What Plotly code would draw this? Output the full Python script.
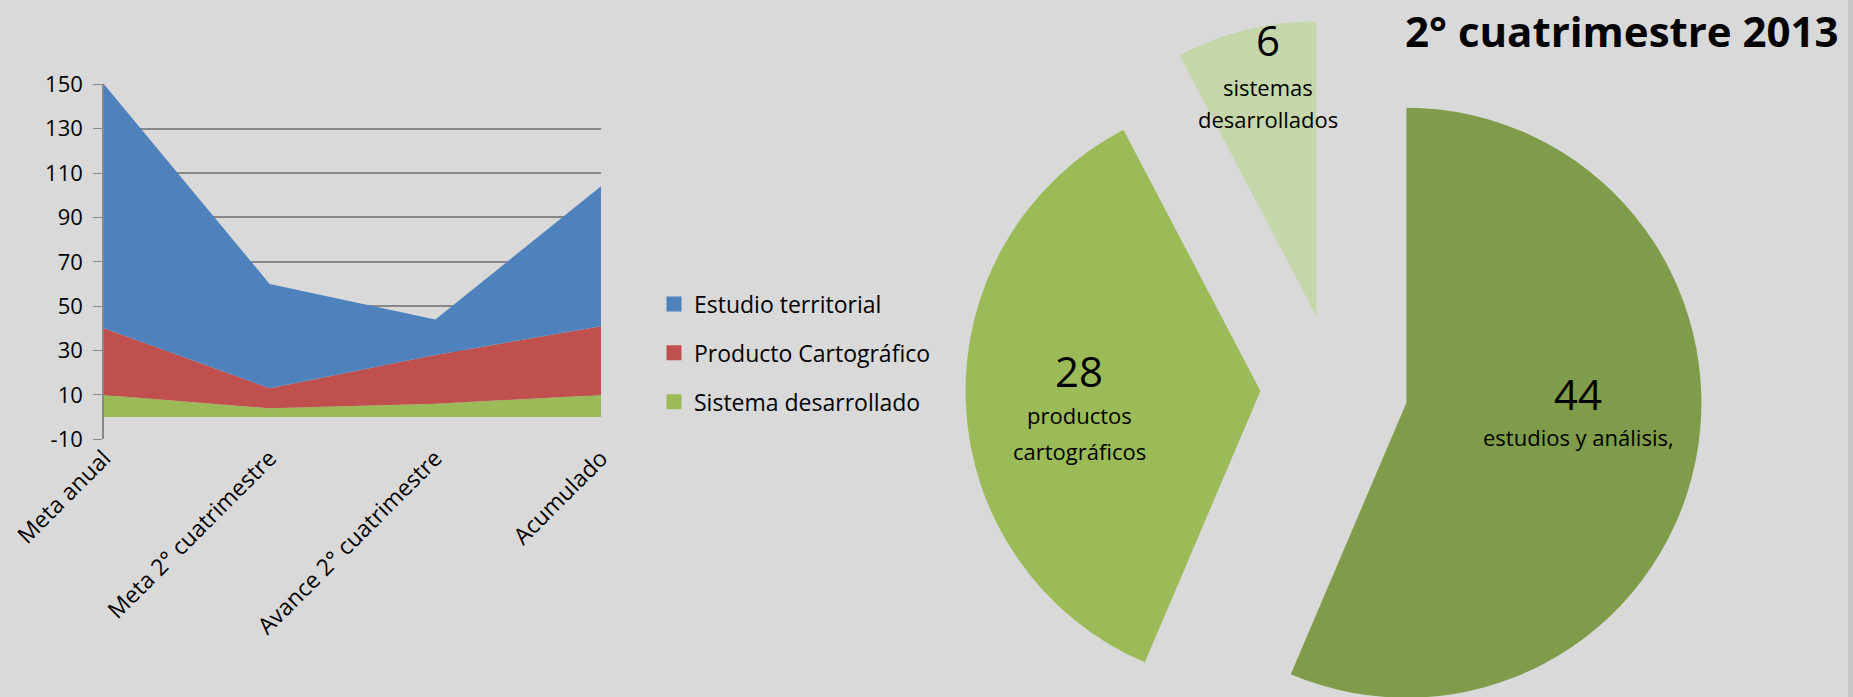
import plotly.graph_objects as go

# ---------------- data ----------------
categories = ["Meta anual", "Meta 2° cuatrimestre", "Avance 2° cuatrimestre", "Acumulado"]
sistema_desarrollado = [10, 4, 6, 10]
producto_cartografico = [30, 9, 22, 31]
estudio_territorial = [110, 47, 16, 63]

y_tick_values = [-10, 10, 30, 50, 70, 90, 110, 130, 150]
y_tick_labels = ["-10", "10", "30", "50", "70", "90", "110", "130", "150"]

pie_values = [44, 28, 6]
pie_numbers = ["44", "28", "6"]
pie_labels = [["estudios y análisis,"], ["productos", "cartográficos"], ["sistemas", "desarrollados"]]
pie_colors = ["#7F9C4A", "#9BBB59", "#C5D7AA"]

title_text = "2° cuatrimestre 2013"

# ---------------- layout constants ----------------
W, H = 1853, 697          # visible page
HF = 757                  # figure height (bottom of the pie runs past the visible page, as in the original)
BG = "#D9D9D9"
FONT = "Open Sans, Lato, sans-serif"
GRID = "#878787"


def py(pix):
    """pixel row (from top) -> paper y"""
    return 1 - pix / HF


x_dom = [104 / W, 601 / W]
y_dom = [py(439.3), py(84.3)]
y_range = [-10, 150]
zero_pos = y_dom[0] + (0 - y_range[0]) / (y_range[1] - y_range[0]) * (y_dom[1] - y_dom[0])

fig = go.Figure()

area_series = [
    ("Sistema desarrollado", sistema_desarrollado, "#9BBB59"),
    ("Producto Cartográfico", producto_cartografico, "#C0504D"),
    ("Estudio territorial", estudio_territorial, "#4F81BD"),
]
for name, vals, col in area_series:
    fig.add_trace(go.Scatter(
        x=categories, y=vals, name=name, mode="none", stackgroup="one",
        fillcolor=col, line=dict(width=0), showlegend=False,
    ))

# legend entries (square swatches), top to bottom
for i, (name, vals, col) in enumerate(reversed(area_series)):
    fig.add_trace(go.Scatter(
        x=[None], y=[None], name=name, mode="markers", legendgroup=f"g{i}",
        marker=dict(symbol="square", size=15, color=col), showlegend=True,
    ))

# pie
pie_pull = 0.25
pie_dx = [0.521, 0.919]
pie_dy = [0, py(19)]
fig.add_trace(go.Pie(
    values=pie_values, labels=[l[0] for l in pie_labels], sort=False,
    direction="clockwise", rotation=0, pull=[pie_pull] * len(pie_values),
    marker=dict(colors=pie_colors, line=dict(width=0)),
    textinfo="none", hoverinfo="label+value", showlegend=False,
    domain=dict(x=pie_dx, y=pie_dy),
))

# pie label placement (relative to pie centre, in radius units)
cx = W * (pie_dx[0] + pie_dx[1]) / 2
cy = HF * (1 - (pie_dy[0] + pie_dy[1]) / 2)
r = min(W * (pie_dx[1] - pie_dx[0]), HF * (pie_dy[1] - pie_dy[0])) / (2 + 2 * pie_pull)
num_off = [(0.827, 0.017), (-0.864, -0.061), (-0.224, -1.183)]
lab_off = [[(0.827, 0.166)], [(-0.864, 0.092), (-0.864, 0.212)], [(-0.224, -1.02), (-0.224, -0.912)]]

annotations = []
for num, (ox, oy), labs, offs in zip(pie_numbers, num_off, pie_labels, lab_off):
    annotations.append(dict(
        text=num, x=(cx + ox * r) / W, y=py(cy + oy * r), xref="paper", yref="paper",
        showarrow=False, xanchor="center", yanchor="middle",
        font=dict(family=FONT, size=42, color="black"),
    ))
    for t, (lx, ly) in zip(labs, offs):
        annotations.append(dict(
            text=t, x=(cx + lx * r) / W, y=py(cy + ly * r), xref="paper", yref="paper",
            showarrow=False, xanchor="center", yanchor="middle",
            font=dict(family=FONT, size=22, color="black"),
        ))

annotations.append(dict(
    text=f"<b>{title_text}</b>", x=1840 / W, y=py(1), xref="paper", yref="paper",
    showarrow=False, xanchor="right", yanchor="top", borderpad=0,
    font=dict(family=FONT, size=42, color="black"),
))

fig.update_layout(
    width=W, height=HF, margin=dict(l=0, r=0, t=0, b=0, autoexpand=False),
    paper_bgcolor=BG, plot_bgcolor=BG,
    font=dict(family=FONT, size=22, color="black"),
    xaxis=dict(
        domain=x_dom, type="category", range=[0, 3], showgrid=False, zeroline=False,
        showline=False, ticks="", tickangle=-45, tickfont=dict(size=23),
        anchor="y", automargin=False,
    ),
    xaxis2=dict(
        overlaying="x", anchor="free", position=zero_pos, range=[0, 3], type="linear",
        tickvals=[0, 1, 2, 3], showticklabels=False, ticks="outside", ticklen=8,
        tickcolor=GRID, showline=True, linecolor=GRID, linewidth=1.5,
        showgrid=False, zeroline=False, automargin=False,
    ),
    yaxis=dict(
        domain=y_dom, range=y_range, tickmode="array", tickvals=y_tick_values,
        ticktext=y_tick_labels, showgrid=True, gridcolor=GRID,
        gridwidth=1.5, zeroline=False, showline=True, linecolor=GRID, linewidth=1.5,
        ticks="outside", ticklen=9, tickcolor=GRID, tickfont=dict(size=22),
        ticklabelstandoff=6, automargin=False,
    ),
    legend=dict(
        x=654 / W, y=py(353), xanchor="left", yanchor="middle",
        bgcolor="rgba(0,0,0,0)", font=dict(family=FONT, size=23, color="black"),
        tracegroupgap=16, itemwidth=30,
    ),
    annotations=annotations,
    shapes=[dict(type="rect", xref="paper", yref="paper", x0=1848 / W, x1=1, y0=0, y1=1,
                 fillcolor="#C6C6C6", line=dict(width=0), layer="below")],
)

# the page shows a 1853x697 window onto the figure
page_fix = (
    "document.body.style.margin='0';"
    "document.body.style.padding='0';"
    "document.body.style.overflow='hidden';"
    "document.documentElement.style.overflow='hidden';"
    "document.body.style.background='" + BG + "';"
    "var plotDiv = document.getElementById('{plot_id}');"
    "if (plotDiv && plotDiv.parentElement) {"
    "  plotDiv.parentElement.style.height='" + str(H) + "px';"
    "  plotDiv.parentElement.style.width='" + str(W) + "px';"
    "  plotDiv.parentElement.style.overflow='hidden';"
    "}"
)

fig.write_html("out.html", post_script=page_fix, config={"displayModeBar": False})
